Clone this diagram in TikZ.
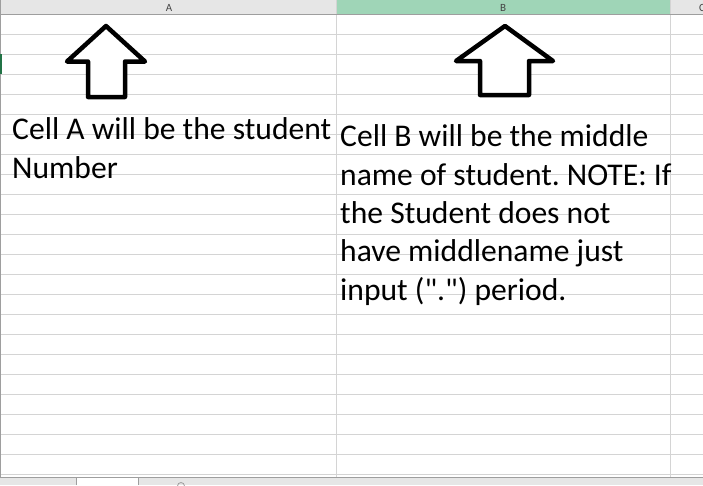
\documentclass[tikz,border=0pt]{standalone}
\usepackage{fontspec}
\setmainfont{Carlito}[Ligatures=TeXOff]
\definecolor{grid}{HTML}{D4D4D4}
\definecolor{hdr}{HTML}{E6E6E6}
\definecolor{hdrsel}{HTML}{9FD5B7}
\definecolor{hdrline}{HTML}{9E9E9E}
\definecolor{selgreen}{HTML}{217346}
\definecolor{hdrtext}{HTML}{444444}
\tikzset{
  gridline/.style={draw=grid, line width=1pt},
  arrowshape/.style={draw=black, line width=4.5pt, line join=round, fill=white},
  celltext/.style={anchor=base west, inner sep=0pt, font=\fontsize{31.6}{36}\selectfont\frenchspacing},
  hdrlabel/.style={inner sep=0pt, text=hdrtext, font=\fontsize{11}{12}\selectfont},
}
\begin{document}
\begin{tikzpicture}[x=1pt,y=-1pt]
\useasboundingbox (0,0) rectangle (703,485);
\fill[white] (0,0) rectangle (703,485);
% header
\fill[hdr] (0,0) rectangle (336,14);
\fill[hdrsel] (336,0) rectangle (670,14);
\fill[hdr] (670,0) rectangle (703,14);
\node[hdrlabel] (hA) at (169,7.5) {A};
\node[hdrlabel] (hB) at (503,7.5) {B};
\node[hdrlabel, anchor=west] (hC) at (699,7.5) {C};
% row lines
\foreach \k in {1,...,23} {
  \draw[gridline] (0,{14+20*\k}) -- (703,{14+20*\k});
}
% column lines
\draw[gridline] (336,0) -- (336,477);
\draw[gridline] (670,0) -- (670,477);
\draw[hdrline, line width=1.2pt] (0,14.5) -- (703,14.5);
\draw[draw=hdrline, line width=1.2pt] (0.6,0) -- (0.6,477);
\fill[selgreen] (0,54) rectangle (1.6,74);
% bottom bar
\fill[hdr] (0,477) rectangle (703,485);
\draw[hdrline, line width=0.8pt] (0,477.4) -- (703,477.4);
\fill[white] (76,477.8) rectangle (138,485);
\draw[hdrline, line width=0.8pt] (76,485) -- (76,477.4) -- (138,477.4) -- (138,485);
\draw[hdrline, line width=0.8pt] (181,486) circle (3.5);
% arrows
\draw[arrowshape] (106,26) -- (67,61.5) -- (88,61.5) -- (88,97) -- (125,97) -- (125,61.5) -- (145,61.5) -- cycle;
\draw[arrowshape] (505,26) -- (456,61) -- (480,61) -- (480,95) -- (529,95) -- (529,61) -- (553,61) -- cycle;
% texts
\node[celltext] (a1) at (12,139.5) {Cell A will be the student};
\node[celltext] (a2) at (12,178.2) {Number};
\node[celltext] (b1) at (340,146.7) {Cell B will be the middle};
\node[celltext] (b2) at (340,185) {name of student. NOTE: If};
\node[celltext] (b3) at (340,223.3) {the Student does not};
\node[celltext] (b4) at (340,261.7) {have middlename just};
\node[celltext] (b5) at (340,300) {input (".") period.};
\end{tikzpicture}
\end{document}
